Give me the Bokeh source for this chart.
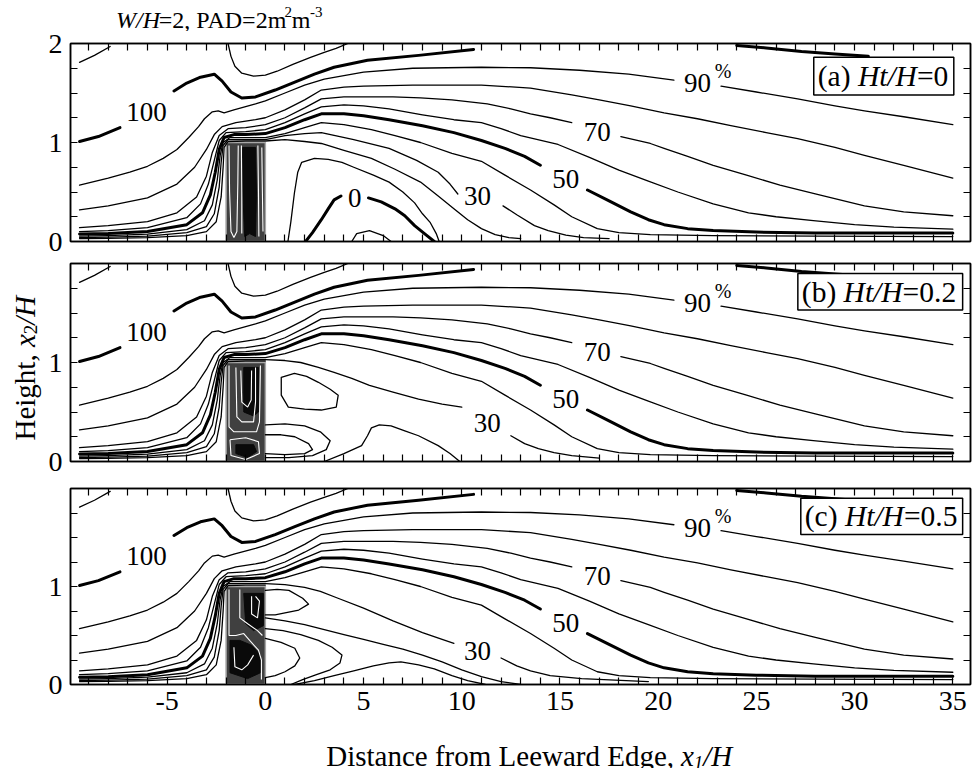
import math
from bokeh.plotting import figure
from bokeh.models import Range1d, LinearAxis, FixedTicker, Label, BoxAnnotation
from bokeh.layouts import column, row
from bokeh.embed import file_html
from bokeh.resources import INLINE
from bokeh.core.properties import value

SERIF = "Liberation Serif"
X_START, X_END = -9.92, 35.9

# ---------------- ticks ----------------
x_major = [-5, 0, 5, 10, 15, 20, 25, 30, 35]
x_all = list(range(-9, 36))
x_minor = [v for v in x_all if v % 5 != 0]
y_major_top = [0, 1, 2]
y_major_low = [0, 1]
y_minor = [0.25, 0.5, 0.75, 1.25, 1.5, 1.75]

panel_tags = ["(a) ", "(b) ", "(c) "]
panel_vals = ["=0", "=0.2", "=0.5"]

# ---------------- shared far-field contours (% of free wind) ----------------
c110a_x = [-9.46, -8.7, -7.9]
c110a_y = [1.81, 1.88, 1.97]
c110b_x = [-1.9, -1.75, -1.55, -1.2, -0.6, 0.0, 0.6, 1.4, 2.3, 3.0, 3.6, 4.2]
c110b_y = [2.0, 1.87, 1.77, 1.70, 1.67, 1.68, 1.72, 1.79, 1.86, 1.91, 1.95, 2.0]

c100a_x = [-9.46, -8.5, -7.4]
c100a_y = [1.01, 1.06, 1.15]
c100b_x = [-4.65, -4.0, -3.3, -2.6, -2.2, -1.75, -1.2, -0.5, 0.5, 1.5, 2.5, 3.5, 5.2, 7.8, 10.6]
c100b_y = [1.52, 1.60, 1.66, 1.69, 1.62, 1.51, 1.45, 1.46, 1.53, 1.61, 1.69, 1.76, 1.83, 1.88, 1.94]
c100c_x = [24.0, 25.5, 27.3, 29.0, 30.7]
c100c_y = [1.98, 1.955, 1.92, 1.895, 1.87]

c90a_x = [-9.46, -8, -6.9, -6, -5.2, -4.5, -3.9, -3.4, -3.1, -2.7, -2.4, -2.1, -1.6, -0.5, 0,
          1, 2, 3, 5, 7.5, 11, 13.5, 16, 18.5, 20.8]
c90a_y = [0.57, 0.64, 0.70, 0.76, 0.84, 0.93, 1.05, 1.16, 1.24, 1.31, 1.32, 1.30, 1.33, 1.39, 1.42,
          1.50, 1.58, 1.64, 1.71, 1.75, 1.76, 1.755, 1.73, 1.69, 1.63]
c90b_x = [23.2, 25, 27.1, 29, 30.5, 32.5, 35]
c90b_y = [1.57, 1.51, 1.44, 1.37, 1.32, 1.26, 1.18]

c80_x = [-9.46, -8, -6, -4.5, -3.6, -3.0, -2.6, -2.2, -1.5, -0.5, 0, 1, 2, 2.85, 4, 5, 7.5, 11,
         13.5, 15.6, 17, 18.6, 20.3, 22, 23.7, 25.5, 27.1, 29, 30.5, 32.5, 35]
c80_y = [0.32, 0.36, 0.44, 0.58, 0.75, 0.93, 1.08, 1.16, 1.20, 1.23, 1.25, 1.33, 1.43, 1.53, 1.56,
         1.57, 1.58, 1.58, 1.55, 1.48, 1.43, 1.37, 1.30, 1.24, 1.17, 1.10, 1.04, 0.95, 0.87, 0.77, 0.64]

c70a_x = [-9.46, -8, -6, -4.5, -3.5, -3.0, -2.7, -2.35, -1.9, -1, 0, 1, 2, 2.85, 4, 5, 6.5, 7.9,
          9.5, 11.3, 12.5, 13.5, 14.5, 15.6]
c70a_y = [0.14, 0.16, 0.20, 0.29, 0.45, 0.66, 0.90, 1.07, 1.14, 1.15, 1.18, 1.25, 1.35, 1.44, 1.46,
          1.46, 1.46, 1.45, 1.43, 1.39, 1.34, 1.29, 1.25, 1.20]
c70b_x = [18.1, 19.6, 20.3, 21.5, 22.8, 24.5, 26.2, 28, 30.5, 32.5, 35]
c70b_y = [1.06, 0.99, 0.94, 0.86, 0.77, 0.67, 0.57, 0.48, 0.36, 0.30, 0.26]

c60_x = [-9.46, -8, -6, -4, -3.3, -2.9, -2.6, -2.35, -2.0, -1, 0, 1, 2, 2.85, 4, 5, 6.3, 8, 9.6,
         11, 12, 13, 14.9, 16.5, 18, 19.5, 21, 22.8, 24.6, 26, 27.9, 30, 32, 35]
c60_y = [0.10, 0.11, 0.14, 0.24, 0.38, 0.58, 0.82, 1.02, 1.10, 1.11, 1.13, 1.20, 1.29, 1.36, 1.38,
         1.37, 1.34, 1.28, 1.23, 1.20, 1.14, 1.07, 0.98, 0.85, 0.72, 0.61, 0.50, 0.38, 0.29, 0.25,
         0.21, 0.17, 0.145, 0.125]

c50a_x = [-9.46, -8, -6, -4, -3.2, -2.8, -2.55, -2.35, -2.1, -1.6, -1, 0, 1, 2, 2.85, 4, 5, 6.3,
          8, 9.6, 11, 12.2, 13.2, 14]
c50a_y = [0.075, 0.08, 0.10, 0.17, 0.29, 0.47, 0.70, 0.93, 1.05, 1.08, 1.08, 1.09, 1.15, 1.23,
          1.29, 1.29, 1.27, 1.23, 1.17, 1.10, 1.02, 0.94, 0.86, 0.77]
c50b_x = [16.4, 17.5, 18.6, 19.5, 20.3, 21.5, 22.8, 25, 28, 35]
c50b_y = [0.52, 0.41, 0.30, 0.22, 0.17, 0.13, 0.11, 0.095, 0.085, 0.085]

c40_x = [-9.46, -8, -6, -4, -3.1, -2.7, -2.45, -2.3, -2.15, -1.8, -1, 0, 1, 2, 2.85, 4, 5.4, 6.6,
         7.9, 9.5, 11, 12.2, 13.5, 14.7, 15.6, 16.9, 18, 19.6, 22.8, 28, 35]
c40_y = [0.055, 0.06, 0.075, 0.12, 0.21, 0.37, 0.62, 0.87, 1.00, 1.05, 1.05, 1.05, 1.09, 1.15, 1.20,
         1.18, 1.13, 1.07, 1.00, 0.89, 0.81, 0.67, 0.52, 0.37, 0.25, 0.13, 0.09, 0.07, 0.06, 0.055, 0.05]

# windward parts of 30 % and 20 % (same in all panels)
c30w_x = [-9.46, -8, -6, -4, -3, -2.6, -2.35, -2.25, -2.15, -1.9, -1, 0]
c30w_y = [0.04, 0.045, 0.055, 0.09, 0.15, 0.28, 0.55, 0.80, 0.97, 1.03, 1.03, 1.03]
c20w_x = [-9.46, -8, -6, -4, -3, -2.5, -2.25, -2.15, -2.1, -1.9, -1, 0]
c20w_y = [0.03, 0.032, 0.04, 0.06, 0.10, 0.20, 0.45, 0.75, 0.95, 1.01, 1.015, 1.015]

# ---------------- panel (a) near field ----------------
a30_x = [1, 2, 2.85, 4.5, 6.3, 7.7, 8.8, 9.4, 9.8]
a30_y = [1.07, 1.09, 1.10, 1.03, 0.94, 0.82, 0.70, 0.58, 0.48]
a30r_x = [12.1, 12.8, 13.7, 14.4, 15.3, 16.2, 17.5]
a30r_y = [0.36, 0.27, 0.16, 0.11, 0.065, 0.04, 0.03]
a20_x = [1, 2, 2.85, 4, 5.4, 6.6, 7.9, 8.8, 9.6, 10.3, 11, 11.7, 12.4, 13]
a20_y = [1.03, 1.01, 0.99, 0.92, 0.84, 0.73, 0.60, 0.46, 0.33, 0.22, 0.13, 0.07, 0.04, 0.03]
a10_x = [1.15, 1.3, 1.48, 1.65, 1.85, 2.5, 3.2, 3.9, 4.5, 5.5, 6.3, 7.0, 7.6, 8.0, 8.4, 8.7, 8.85]
a10_y = [0.0, 0.2, 0.49, 0.70, 0.80, 0.84, 0.83, 0.80, 0.75, 0.67, 0.60, 0.50, 0.39, 0.28, 0.19, 0.08, 0.0]
a0l_x = [2.05, 2.4, 2.85, 3.2, 3.5, 3.85]
a0l_y = [0.0, 0.09, 0.22, 0.33, 0.42, 0.46]
a0r_x = [5.25, 5.9, 6.6, 7.1, 7.6, 8.1, 8.6]
a0r_y = [0.44, 0.40, 0.33, 0.26, 0.16, 0.08, 0.0]
am_x = [4.4, 4.65, 5.3, 6.0, 6.4]
am_y = [0.0, 0.08, 0.11, 0.06, 0.0]

# ---------------- panel (b) near field ----------------
b30_x = [1, 1.8, 2.7, 3.5, 4.4, 5.3, 6.5, 7.8, 9.0, 10.0]
b30_y = [1.02, 1.0, 0.95, 0.90, 0.84, 0.77, 0.70, 0.63, 0.58, 0.55]
b30r_x = [12.5, 13.2, 13.9, 14.7, 15.6, 17.0]
b30r_y = [0.26, 0.18, 0.13, 0.09, 0.06, 0.035]
b20_x = [0.81, 1.48, 2.1, 2.70, 3.3, 3.71, 3.61, 2.85, 2.0, 1.17, 0.81, 0.81]
b20_y = [0.85, 0.89, 0.86, 0.80, 0.73, 0.67, 0.55, 0.52, 0.53, 0.55, 0.67, 0.85]
b10_x = [3.0, 4.0, 4.9, 5.2, 5.4, 5.8, 6.4, 7.1, 7.8, 8.8, 9.4, 9.9]
b10_y = [0.0, 0.08, 0.16, 0.26, 0.34, 0.37, 0.36, 0.31, 0.26, 0.16, 0.08, 0.0]
bl1_x = [0, 1.0, 2.0, 2.8, 3.3, 3.1, 2.4, 1.2, 0]
bl1_y = [0.37, 0.38, 0.36, 0.30, 0.21, 0.12, 0.06, 0.04, 0.04]
bl2_x = [0, 0.8, 1.5, 2.2, 2.4, 2.0, 1.0, 0]
bl2_y = [0.27, 0.27, 0.25, 0.18, 0.12, 0.08, 0.07, 0.08]

# ---------------- panel (c) near field ----------------
c30c_x = [1, 2, 2.8, 3.7, 5, 6.5, 8, 9.0, 9.6]
c30c_y = [1.02, 0.99, 0.95, 0.88, 0.78, 0.65, 0.53, 0.46, 0.42]
c30cr_x = [12.0, 12.8, 13.5, 14.5, 16.1, 19.5]
c30cr_y = [0.27, 0.19, 0.14, 0.09, 0.06, 0.03]
cside_x = [0, 1, 2, 3, 4, 5, 6, 7, 8, 9, 10, 11, 12, 13]
cside_y = [0.68, 0.65, 0.61, 0.56, 0.51, 0.46, 0.41, 0.36, 0.30, 0.23, 0.15, 0.08, 0.03, 0.0]
cbump_x = [1.5, 2.5, 3.5, 4.5, 5.5, 6.3, 6.9, 7.8, 8.6, 9.5, 10.3, 11.2]
cbump_y = [0.0, 0.04, 0.09, 0.14, 0.19, 0.22, 0.23, 0.20, 0.16, 0.09, 0.04, 0.0]
cout_x = [0, 0.9, 1.8, 2.7, 3.4, 3.9, 3.8, 3.3, 2.6, 1.9, 1.3]
cout_y = [0.57, 0.55, 0.51, 0.45, 0.38, 0.30, 0.22, 0.15, 0.10, 0.05, 0.0]
cin_x = [0, 0.8, 1.5, 1.75, 1.5, 1.0, 0.5, 0]
cin_y = [0.47, 0.43, 0.37, 0.27, 0.19, 0.13, 0.09, 0.07]
cup_x = [0, 0.6, 1.2, 1.9, 2.2, 1.7, 1.0, 0.5, 0]
cup_y = [0.96, 0.97, 0.96, 0.88, 0.82, 0.76, 0.73, 0.71, 0.71]

# ---------------- contour labels ----------------
lab_x = [-6.05, 22.0, 16.9, 15.3]
lab_y = [1.31, 1.60, 1.11, 0.63]
lab_t = ["100", "90", "70", "50"]
pct_x, pct_y = [23.3], [1.72]
a_lab_x, a_lab_y, a_lab_t = [10.8, 4.55], [0.46, 0.44], ["30", "0"]
b_lab_x, b_lab_y, b_lab_t = [11.3], [0.39], ["30"]
c_lab_x, c_lab_y, c_lab_t = [10.8], [0.34], ["30"]

# ---------------- tree (x1/H from -2 to 0, height 1) ----------------
tree_left, tree_right, tree_top = -2.0, 0.0, 1.0

ta_dark = [([-1.15, -0.5, -0.45, -0.5, -0.8, -1.05, -1.15], [0.95, 0.95, 0.5, 0.05, 0.08, 0.05, 0.5])]
ta_white = [([-1.85, -1.82, -1.75, -1.6, -1.45, -1.4, -1.38], [0.97, 0.5, 0.1, 0.04, 0.1, 0.6, 0.97]),
            ([-1.22, -1.2, -1.2], [0.97, 0.5, 0.08]),
            ([-0.38, -0.35, -0.33], [0.97, 0.5, 0.05]),
            ([-0.18, -0.15, -0.12], [0.95, 0.5, 0.1])]
tb_dark = [([-1.1, -0.35, -0.35, -0.6, -1.1], [0.95, 0.95, 0.5, 0.46, 0.5]),
           ([-1.5, -0.6, -0.45, -0.9, -1.5], [0.17, 0.17, 0.10, 0.04, 0.08])]
tb_white = [([-1.85, -1.85, -1.6, -0.45, -0.3, -0.25], [0.97, 0.35, 0.30, 0.30, 0.4, 0.97]),
            ([-1.5, -1.45, -1.2, -0.6, -0.5, -0.5], [0.95, 0.45, 0.40, 0.40, 0.6, 0.95]),
            ([-1.25, -1.2, -0.9, -0.72, -0.7], [0.92, 0.6, 0.55, 0.62, 0.92]),
            ([-1.8, -1.0, -0.35, -0.3, -1.0, -1.75, -1.8], [0.22, 0.24, 0.20, 0.08, 0.02, 0.06, 0.22])]
tc_dark = [([-1.1, -0.1, -0.1, -0.6, -1.0], [0.93, 0.93, 0.6, 0.55, 0.62]),
           ([-1.8, -1.3, -0.7, -0.25, -0.25, -0.9, -1.8], [0.45, 0.45, 0.40, 0.30, 0.12, 0.06, 0.12])]
tc_white = [([-1.85, -1.85, -1.5, -1.1, -0.8, -0.35, -0.2, -0.2], [0.97, 0.5, 0.5, 0.52, 0.45, 0.35, 0.25, 0.05]),
            ([-1.3, -1.3, -0.9, -0.4, -0.15], [0.97, 0.68, 0.62, 0.55, 0.5]),
            ([-0.7, -0.7, -0.4, -0.3, -0.5], [0.9, 0.72, 0.68, 0.85, 0.9]),
            ([-1.6, -1.55, -1.2, -0.9, -0.6], [0.38, 0.18, 0.15, 0.2, 0.3])]

# ---------------- text helpers (Times metrics) ----------------
TIMES = {' ': 250, '(': 333, ')': 333, 'a': 444, 'b': 500, 'c': 444, '=': 564, '0': 500, '1': 500,
         '2': 500, '3': 500, '5': 500, '.': 250, ',': 250, 'P': 556, 'A': 722, 'D': 722, 'm': 778,
         '-': 333, 'H': 722, 't': 278, '/': 278, 'W': 944, 'i': 278, 's': 389, 'n': 500, 'e': 444,
         'f': 333, 'r': 333, 'o': 500, 'L': 611, 'w': 722, 'd': 500, 'E': 611, 'g': 500, 'h': 500, 'x': 500}
TIMES_I = {'H': 722, 't': 278, '/': 278, 'W': 833, 'x': 444, '1': 500, '2': 500}


def tw(s, size, italic):
    tab = TIMES_I if italic else TIMES
    return sum(tab.get(ch, TIMES.get(ch, 500)) for ch in s) * size / 1000.0


def label_run(p, x, y, parts, dx0=0.0, baseline="middle"):
    """Mixed-style text inside a plot frame (Label annotations)."""
    adv = 0.0
    for text, size, italic in parts:
        p.add_layout(Label(x=x, y=y, x_units="data", y_units="data", text=text, x_offset=dx0 + adv,
                           text_font=SERIF, text_font_size=f"{size}px",
                           text_font_style="italic" if italic else "normal",
                           text_baseline=baseline, text_align="left", text_color="black"))
        adv += tw(text, size, italic)


def glyph_run(p, x, y, parts, vertical=False):
    """Mixed-style text on a text-only figure whose data units are pixels."""
    adv = 0.0
    for text, size, italic, shift in parts:
        if vertical:
            tx, ty, ang = x - shift, y + adv, math.pi / 2
        else:
            tx, ty, ang = x + adv, y + shift, 0.0
        p.text(x=[tx], y=[ty], text=[text], angle=ang, text_font=value(SERIF),
               text_font_size=f"{size}px", text_font_style="italic" if italic else "normal",
               text_align="left", text_baseline="alphabetic", text_color="black")
        adv += tw(text, size, italic)


def text_fig(w, h, left=0, right=0):
    p = figure(width=w, height=h, x_range=Range1d(0, w - left - right), y_range=Range1d(0, h), title=None,
               x_axis_type=None, y_axis_type=None, output_backend="svg", toolbar_location=None,
               min_border_left=left, min_border_right=right, min_border_top=0, min_border_bottom=0)
    p.outline_line_color = None
    p.background_fill_color = "white"
    p.border_fill_color = "white"
    return p


def tick_axis(ticker, labels):
    ax = LinearAxis(ticker=ticker, axis_line_color="black", axis_line_width=1.5,
                    major_tick_in=7, major_tick_out=0, minor_tick_in=7, minor_tick_out=0,
                    major_tick_line_width=1.2, minor_tick_line_width=1.2,
                    major_tick_line_color="black", minor_tick_line_color="black")
    if labels:
        ax.major_label_text_font = SERIF
        ax.major_label_text_font_size = "28px"
        ax.major_label_text_color = "black"
        ax.major_label_overrides = {-5: "-5"}
    else:
        ax.major_label_standoff = 0
    return ax


def make_panel(height, top, bottom, left_major, show_x_labels):
    p = figure(width=928, height=height, x_range=Range1d(X_START, X_END), y_range=Range1d(0, 2), title=None,
               x_axis_type=None, y_axis_type=None, output_backend="svg", toolbar_location=None,
               min_border_left=24, min_border_right=3, min_border_top=top, min_border_bottom=bottom)
    p.outline_line_color = "black"
    p.outline_line_width = 1.5
    p.background_fill_color = "white"
    p.border_fill_color = "white"
    if show_x_labels:
        bx = tick_axis(FixedTicker(ticks=x_major, minor_ticks=x_minor), True)
        bx.major_label_standoff = 7
    else:
        bx = tick_axis(FixedTicker(ticks=[], minor_ticks=x_all), False)
    p.add_layout(bx, "below")
    p.add_layout(tick_axis(FixedTicker(ticks=[], minor_ticks=x_all), False), "above")
    ly = tick_axis(FixedTicker(ticks=left_major, minor_ticks=y_minor), True)
    ly.major_label_standoff = 8
    p.add_layout(ly, "left")
    p.add_layout(tick_axis(FixedTicker(ticks=[], minor_ticks=y_minor), False), "right")
    return p


def draw(p, thin, thick, labels, dark, white, tag, val, box):
    p.quad(left=[tree_left], right=[tree_right], bottom=[0], top=[tree_top],
           fill_color="#404040", line_color="#a8a8a8", line_width=1.5)
    p.patches(xs=[d[0] for d in dark], ys=[d[1] for d in dark], fill_color="#0a0a0a", line_color="#0a0a0a")
    p.multi_line(xs=[w[0] for w in white], ys=[w[1] for w in white], line_color="white", line_width=1.1)
    p.multi_line(xs=[l[0] for l in thin], ys=[l[1] for l in thin], line_color="black",
                 line_width=1.3, line_join="round", line_cap="round")
    p.multi_line(xs=[l[0] for l in thick], ys=[l[1] for l in thick], line_color="black",
                 line_width=3.0, line_join="round", line_cap="round")
    lx, ly, lt = labels
    p.text(x=lab_x + lx, y=lab_y + ly, text=lab_t + lt, text_font=value(SERIF), text_font_size="27px",
           text_align="center", text_baseline="middle", text_color="black")
    p.text(x=pct_x, y=pct_y, text=["%"], text_font=value(SERIF), text_font_size="20px",
           text_align="center", text_baseline="middle", text_color="black")
    left, right, bottom, top = box
    p.add_layout(BoxAnnotation(left=left, right=right, bottom=bottom, top=top, fill_color="white",
                               fill_alpha=1.0, line_color="black", line_width=1.5, line_alpha=1.0))
    label_run(p, left, (bottom + top) / 2,
              [(tag, 29.5, False), ("Ht/H", 29.5, True), (val, 29.5, False)], dx0=4)


shared_thin = [(c110a_x, c110a_y), (c110b_x, c110b_y), (c90a_x, c90a_y), (c90b_x, c90b_y),
               (c80_x, c80_y), (c70a_x, c70a_y), (c70b_x, c70b_y), (c60_x, c60_y), (c40_x, c40_y)]
shared_thick = [(c100a_x, c100a_y), (c100b_x, c100b_y), (c100c_x, c100c_y), (c50a_x, c50a_y), (c50b_x, c50b_y)]

# ---- title strip (full-width strip, data units = pixels)
pt = text_fig(928, 31)
glyph_run(pt, 47, 12, [("W/H", 24, True, 0), ("=2, PAD=2m", 24, False, 0), ("2", 15, False, 8),
                       ("m", 24, False, 0), ("-3", 15, False, 8)])

# ---- panel (a)
pa = make_panel(225, 12, 15, y_major_top, False)
draw(pa,
     shared_thin + [(c30w_x + a30_x, c30w_y + a30_y), (a30r_x, a30r_y), (c20w_x + a20_x, c20w_y + a20_y),
                    (a10_x, a10_y), (am_x, am_y)],
     shared_thick + [(a0l_x, a0l_y), (a0r_x, a0r_y)],
     (a_lab_x, a_lab_y, a_lab_t), ta_dark, ta_white, panel_tags[0], panel_vals[0], (27.92, 35.05, 1.48, 1.86))

# ---- panel (b)
pb = make_panel(222, 7, 17, y_major_low, False)
draw(pb,
     shared_thin + [(c30w_x + b30_x, c30w_y + b30_y), (b30r_x, b30r_y), (c20w_x, c20w_y), (b20_x, b20_y),
                    (b10_x, b10_y), (bl1_x, bl1_y), (bl2_x, bl2_y)],
     shared_thick,
     (b_lab_x, b_lab_y, b_lab_t), tb_dark, tb_white, panel_tags[1], panel_vals[1], (27.11, 35.5, 1.53, 1.90))

# ---- panel (c)
pc = make_panel(246, 10, 40, y_major_low, True)
draw(pc,
     shared_thin + [(c30w_x + c30c_x, c30w_y + c30c_y), (c30cr_x, c30cr_y), (c20w_x, c20w_y), (cside_x, cside_y),
                    (cbump_x, cbump_y), (cout_x, cout_y), (cin_x, cin_y), (cup_x, cup_y)],
     shared_thick,
     (c_lab_x, c_lab_y, c_lab_t), tc_dark, tc_white, panel_tags[2], panel_vals[2], (27.26, 35.5, 1.53, 1.90))

# ---- x-axis title strip
px_title = text_fig(928, 44, left=24, right=3)
glyph_run(px_title, 256, 12.5, [("Distance from Leeward Edge, ", 29, False, 0), ("x", 29, True, 0),
                                ("1", 19, True, -6), ("/H", 29, True, 0)])

# ---- y-axis title strip
py_title = text_fig(45, 768)
glyph_run(py_title, 24, 328, [("Height, ", 29, False, 0), ("x", 29, True, 0), ("2", 19, False, -6),
                              ("/H", 29, True, 0)], vertical=True)

layout = row(py_title, column(pt, pa, pb, pc, px_title, spacing=0), spacing=0)
open("out.html", "w").write(file_html(layout, INLINE))
